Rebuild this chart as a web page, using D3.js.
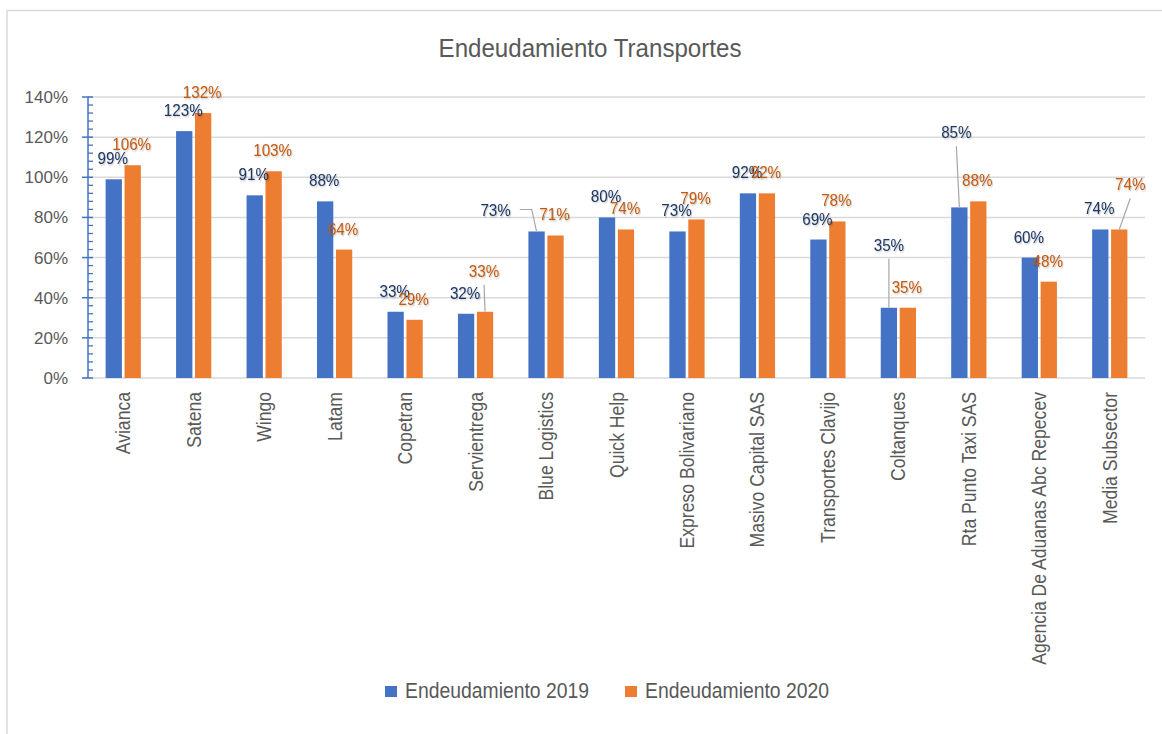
<!DOCTYPE html>
<html>
<head>
<meta charset="utf-8">
<script src="https://cdn.jsdelivr.net/npm/d3@7"></script>
<style>
  body { margin: 0; background: #fff; }
  text { font-family: "Liberation Sans", Arial, sans-serif; }
</style>
</head>
<body>
<div id="chart"></div>
<script>
// data
var categories = ["Avianca", "Satena", "Wingo", "Latam", "Copetran", "Servientrega",
  "Blue Logistics", "Quick Help", "Expreso Bolivariano", "Masivo Capital SAS",
  "Transportes Clavijo", "Coltanques", "Rta Punto Taxi SAS",
  "Agencia De Aduanas Abc Repecev", "Media Subsector"];
var values2019 = [99, 123, 91, 88, 33, 32, 73, 80, 73, 92, 69, 35, 85, 60, 74];
var values2020 = [106, 132, 103, 64, 29, 33, 71, 74, 79, 92, 78, 35, 88, 48, 74];
var seriesNames = ["Endeudamiento 2019", "Endeudamiento 2020"];
var yTickValues = [0, 20, 40, 60, 80, 100, 120, 140];

var barColors = ["#4472C4", "#ED7D31"];
var labelColors = ["#1F3864", "#C55A11"];

// labels that were dragged away from the bar in the original (series-index)
var labelMoves = {
  "1-5": {dx: -1, dy: -35, leader: "below"},
  "0-6": {dx: -41, dy: -15, leader: "right"},
  "0-11": {dx: 0, dy: -57, leader: "below"},
  "0-12": {dx: -3, dy: -69, leader: "below"},
  "1-14": {dx: 11, dy: -39, leader: "below"}
};

var W = 1162, H = 734;
var plot = {left: 88, right: 1145, top: 97, bottom: 378};

var svg = d3.select("#chart").append("svg")
  .attr("width", W).attr("height", H);

var defs = svg.append("defs");
defs.append("filter").attr("id", "shadow")
  .attr("x", "-20%").attr("y", "-20%").attr("width", "140%").attr("height", "140%")
  .append("feDropShadow")
  .attr("dx", 1).attr("dy", 1).attr("stdDeviation", 0.8)
  .attr("flood-color", "#000").attr("flood-opacity", 0.25);

// chart border
svg.append("rect")
  .attr("x", 7).attr("y", 10.5)
  .attr("width", W + 20).attr("height", H + 20)
  .attr("fill", "#fff").attr("stroke", "#d9d9d9").attr("stroke-width", 1.5);

// condensed text helper
function ctext(g, x, y, str, size, sx, rot) {
  return g.append("text")
    .attr("transform", "translate(" + x + "," + y + ")" + (rot ? " rotate(" + rot + ")" : "") + " scale(" + sx + ",1)")
    .style("font-size", size + "px")
    .text(str);
}

// title
ctext(svg, 590, 56.5, "Endeudamiento Transportes", 26.5, 0.91)
  .attr("text-anchor", "middle").attr("fill", "#595959");

var x0 = d3.scaleBand().domain(categories).range([plot.left, plot.right]).paddingInner(0.5).paddingOuter(0.25);
var x1 = d3.scaleBand().domain([0, 1]).range([0, x0.bandwidth()]).paddingInner(0.14);
var y = d3.scaleLinear().domain([0, 140]).range([plot.bottom, plot.top]);

// gridlines
svg.append("g").selectAll("line").data(yTickValues).join("line")
  .attr("x1", function(d) { return d === 0 ? plot.left - 6 : plot.left; })
  .attr("x2", plot.right)
  .attr("y1", function(d) { return y(d); }).attr("y2", function(d) { return y(d); })
  .attr("stroke", "#d9d9d9").attr("stroke-width", 1.5);

// y tick labels
svg.append("g").selectAll("text").data(yTickValues).join("text")
  .attr("x", 68).attr("y", function(d) { return y(d); })
  .attr("dy", "0.35em").attr("text-anchor", "end")
  .attr("fill", "#595959").style("font-size", "17px")
  .text(function(d) { return d + "%"; });

// y axis with minor ticks
var axisG = svg.append("g").attr("stroke", "#4472C4");
axisG.append("line").attr("x1", plot.left).attr("x2", plot.left)
  .attr("y1", y(140)).attr("y2", y(0)).attr("stroke-width", 1.5);
axisG.selectAll(".major").data(yTickValues).join("line")
  .attr("x1", plot.left - 6).attr("x2", plot.left + 5)
  .attr("y1", function(d) { return y(d); }).attr("y2", function(d) { return y(d); })
  .attr("stroke-width", 1.5);
axisG.selectAll(".minor").data(d3.range(0, 141, 4).filter(function(d) { return d % 20 !== 0; })).join("line")
  .attr("x1", plot.left).attr("x2", plot.left + 5)
  .attr("y1", function(d) { return y(d); }).attr("y2", function(d) { return y(d); })
  .attr("stroke-width", 1.3);

// bars
var seriesValues = [values2019, values2020];
var barsG = svg.append("g");
seriesValues.forEach(function(vals, s) {
  barsG.selectAll(".s" + s).data(vals).join("rect")
    .attr("x", function(d, i) { return x0(categories[i]) + x1(s); })
    .attr("width", x1.bandwidth())
    .attr("y", function(d) { return y(d); })
    .attr("height", function(d) { return y(0) - y(d); })
    .attr("fill", barColors[s]);
});

// data labels and leader lines
var labelG = svg.append("g");
var leaderG = svg.append("g").attr("stroke", "#a6a6a6").attr("stroke-width", 1.2).attr("fill", "none");
seriesValues.forEach(function(vals, s) {
  vals.forEach(function(v, i) {
    var bx = x0(categories[i]) + x1(s) + x1.bandwidth() / 2;
    var by = y(v);
    var mv = labelMoves[s + "-" + i] || {dx: -1, dy: -15};
    var lx = bx + mv.dx, ly = by + mv.dy;
    var t = ctext(labelG, lx, ly, v + "%", 16.5, 0.92)
      .attr("text-anchor", "middle")
      .attr("fill", labelColors[s])
      .attr("filter", "url(#shadow)");
    if (mv.leader === "below") {
      leaderG.append("path").attr("d", d3.line()([[lx, ly + 8], [bx, by]]));
    } else if (mv.leader === "right") {
      var half = t.node().getBBox().width * 0.92 / 2;
      var sx = lx + half + 9, sy = ly - 7;
      leaderG.append("path").attr("d", d3.line()([[sx, sy], [sx + 12, sy], [bx, by]]));
    }
  });
});

// category labels, rotated
svg.append("g").selectAll("text").data(categories).join("text")
  .attr("transform", function(d) {
    return "translate(" + (x0(d) + x0.bandwidth() / 2) + ",392) rotate(-90) scale(0.88,1)";
  })
  .attr("dy", "0.35em").attr("text-anchor", "end")
  .attr("fill", "#595959").style("font-size", "20px")
  .text(function(d) { return d; });

// legend
var legendX = [385, 625];
var legend = svg.append("g");
seriesNames.forEach(function(name, s) {
  legend.append("rect").attr("x", legendX[s]).attr("y", 686)
    .attr("width", 12).attr("height", 11).attr("fill", barColors[s]);
  ctext(legend, legendX[s] + 20, 698, name, 22, 0.88).attr("fill", "#595959");
});
</script>
</body>
</html>
